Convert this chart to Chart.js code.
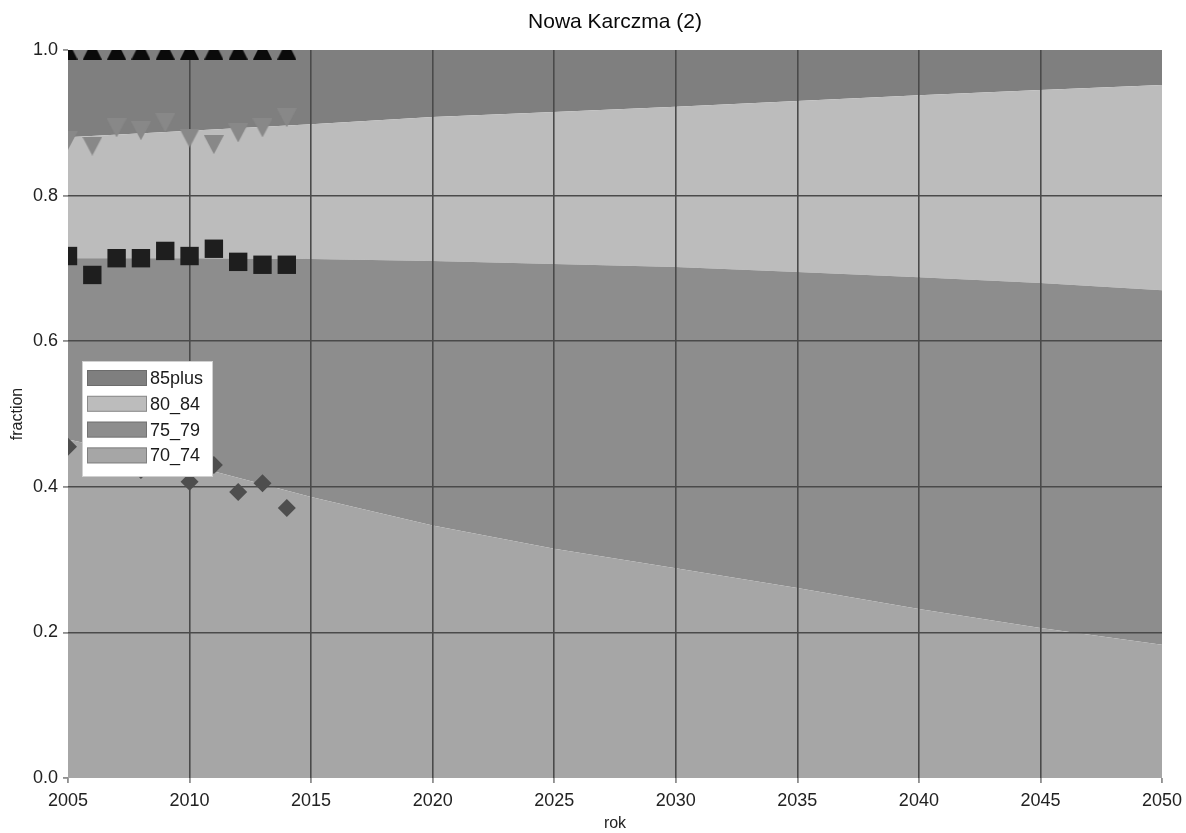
<!DOCTYPE html>
<html>
<head>
<meta charset="utf-8">
<script src="https://cdn.jsdelivr.net/npm/chart.js@4/dist/chart.umd.min.js"></script>
<style>
  html, body { margin: 0; padding: 0; background: #ffffff; }
  #wrap { width: 1186px; height: 833px; position: relative; }
</style>
</head>
<body>
<div id="wrap"><canvas id="c" width="1186" height="833"></canvas></div>
<script>
// ---- data ----
const chartTitle = 'Nowa Karczma (2)';
const xTitle = 'rok';
const yTitle = 'fraction';
const seriesNames = ['70_74', '75_79', '80_84', '85plus'];

// projection years (stacked areas)
const years = [2005, 2010, 2015, 2020, 2025, 2030, 2035, 2040, 2045, 2050];
const share70_74  = [0.465, 0.430, 0.386, 0.347, 0.315, 0.288, 0.261, 0.232, 0.206, 0.183];
const share75_79  = [0.249, 0.284, 0.327, 0.363, 0.391, 0.414, 0.434, 0.456, 0.474, 0.487];
const share80_84  = [0.166, 0.175, 0.185, 0.198, 0.209, 0.220, 0.235, 0.250, 0.265, 0.282];
const share85plus = [0.120, 0.111, 0.102, 0.092, 0.085, 0.078, 0.070, 0.062, 0.055, 0.048];

// observed years (cumulative markers)
const obsYears = [2005, 2006, 2007, 2008, 2009, 2010, 2011, 2012, 2013, 2014];
const obsCum85plus = [1.0, 1.0, 1.0, 1.0, 1.0, 1.0, 1.0, 1.0, 1.0, 1.0];
const obsCum80_84  = [0.876, 0.868, 0.893, 0.889, 0.900, 0.879, 0.870, 0.886, 0.893, 0.907];
const obsCum75_79  = [0.717, 0.691, 0.714, 0.714, 0.724, 0.717, 0.727, 0.709, 0.705, 0.705];
const obsCum70_74  = [0.455, 0.450, 0.440, 0.423, 0.430, 0.407, 0.430, 0.393, 0.405, 0.371];

const yTicks = [0, 0.2, 0.4, 0.6, 0.8, 1.0];

// ---- styles ----
const areaColors = { '70_74': '#a6a6a6', '75_79': '#8d8d8d', '80_84': '#bcbcbc', '85plus': '#7f7f7f' };
const FONT = '"Liberation Sans", Arial, Helvetica, sans-serif';

function triCanvas(w, h, color, down) {
  const c = document.createElement('canvas');
  c.width = w; c.height = h;
  const g = c.getContext('2d');
  g.fillStyle = color;
  g.beginPath();
  if (down) { g.moveTo(0, 0); g.lineTo(w, 0); g.lineTo(w / 2, h); }
  else { g.moveTo(w / 2, 0); g.lineTo(w, h); g.lineTo(0, h); }
  g.closePath();
  g.fill();
  return c;
}
const upTri = triCanvas(19, 19, '#0a0a0a', false);
const downTri = triCanvas(20, 19, '#888888', true);

const pts = (xs, ys) => xs.map((x, i) => ({ x: x, y: ys[i] }));

function areaDs(name, vals, fill) {
  return {
    label: name, data: pts(years, vals), stack: 'areas', order: 1,
    backgroundColor: areaColors[name], borderColor: areaColors[name], borderWidth: 0,
    pointRadius: 0, fill: fill, tension: 0, isArea: true
  };
}
function markerDs(name, vals, style, radius, color) {
  return {
    label: name, data: pts(obsYears, vals), stack: 'm_' + name, order: 0,
    showLine: false, pointStyle: style, pointRadius: radius, pointHoverRadius: radius,
    pointBackgroundColor: color, pointBorderColor: color, pointBorderWidth: 0,
    backgroundColor: color, borderColor: color, fill: false, clip: 0, isMarker: true
  };
}

const datasets = [
  areaDs('70_74', share70_74, 'origin'),
  areaDs('75_79', share75_79, '-1'),
  areaDs('80_84', share80_84, '-1'),
  areaDs('85plus', share85plus, '-1'),
  markerDs('obs70_74', obsCum70_74, 'rectRot', 9, '#4e4e4e'),
  markerDs('obs75_79', obsCum75_79, 'rect', 13, '#1e1e1e'),
  markerDs('obs80_84', obsCum80_84, downTri, 10, '#888888'),
  markerDs('obs85plus', obsCum85plus, upTri, 10, '#0a0a0a')
];

function drawGrids(chart) {
  chart.scales.x.drawGrid(chart.chartArea);
  chart.scales.y.drawGrid(chart.chartArea);
}
const gridOnTop = {
  id: 'gridOnTop',
  beforeDatasetsDraw(chart) { chart.$gridDone = false; },
  beforeDatasetDraw(chart, args) {
    const ds = chart.data.datasets[args.index];
    if (!chart.$gridDone && ds.isMarker) { drawGrids(chart); chart.$gridDone = true; }
  },
  afterDatasetsDraw(chart) { if (!chart.$gridDone) { drawGrids(chart); chart.$gridDone = true; } }
};

const boxLegend = {
  id: 'boxLegend',
  afterDatasetsDraw(chart) {
    const ctx = chart.ctx;
    const bx = 82, by = 361, bw = 131, bh = 116;
    ctx.save();
    ctx.fillStyle = '#ffffff';
    ctx.fillRect(bx, by, bw, bh);
    ctx.strokeStyle = '#d0d0d0';
    ctx.lineWidth = 1;
    ctx.strokeRect(bx + 0.5, by + 0.5, bw - 1, bh - 1);
    const order = ['85plus', '80_84', '75_79', '70_74'];
    ctx.font = '18px ' + FONT;
    ctx.textBaseline = 'middle';
    ctx.textAlign = 'left';
    order.forEach((name, i) => {
      const cy = by + 17 + i * 25.8;
      ctx.fillStyle = areaColors[name];
      ctx.fillRect(bx + 5, cy - 8, 60, 16);
      ctx.strokeStyle = 'rgba(90,90,90,0.5)';
      ctx.strokeRect(bx + 5.5, cy - 7.5, 59, 15);
      ctx.fillStyle = '#1a1a1a';
      ctx.fillText(name, bx + 68, cy + 1);
    });
    ctx.restore();
  }
};

const gridColor = (ctx) => {
  const t = ctx.tick;
  if (!t) return 'rgba(0,0,0,0)';
  const s = ctx.scale;
  if (t.value === s.min || t.value === s.max) return 'rgba(0,0,0,0)';
  return '#4a4a4a';
};

new Chart(document.getElementById('c'), {
  type: 'line',
  data: { datasets: datasets },
  options: {
    responsive: false,
    animation: false,
    events: [],
    layout: { padding: { left: 0, right: 24, top: 0, bottom: 0 } },
    plugins: {
      legend: { display: false },
      tooltip: { enabled: false },
      title: {
        display: true, text: chartTitle, color: '#0a0a0a', fullSize: false,
        font: { family: FONT, size: 21, weight: 'normal' },
        padding: { top: 10, bottom: 14.8 }
      }
    },
    scales: {
      x: {
        type: 'linear', min: years[0], max: years[years.length - 1],
        afterFit(s) { s.height = 55; s.paddingRight = 0; s.paddingLeft = 0; },
        border: { display: false },
        grid: { color: gridColor, lineWidth: 1.6, tickLength: 5, tickColor: '#909090' },
        ticks: {
          stepSize: 5, color: '#222', padding: 7,
          font: { family: FONT, size: 18 },
          callback: (v) => String(v)
        },
        title: { display: true, text: xTitle, color: '#222', font: { family: FONT, size: 16 }, padding: { top: 0, bottom: 0 } }
      },
      y: {
        type: 'linear', stacked: true, min: 0, max: 1,
        afterFit(s) { s.width = 68; },
        afterBuildTicks(s) { s.ticks = yTicks.map(v => ({ value: v })); },
        border: { display: false },
        grid: { color: gridColor, lineWidth: 1.6, tickLength: 5, tickColor: '#909090' },
        ticks: {
          color: '#222', padding: 5,
          font: { family: FONT, size: 18 },
          callback: (v) => Number(v).toFixed(1)
        },
        title: { display: true, text: yTitle, color: '#222', font: { family: FONT, size: 16 }, padding: { top: 8, bottom: 0 } }
      }
    }
  },
  plugins: [gridOnTop, boxLegend]
});
</script>
</body>
</html>
